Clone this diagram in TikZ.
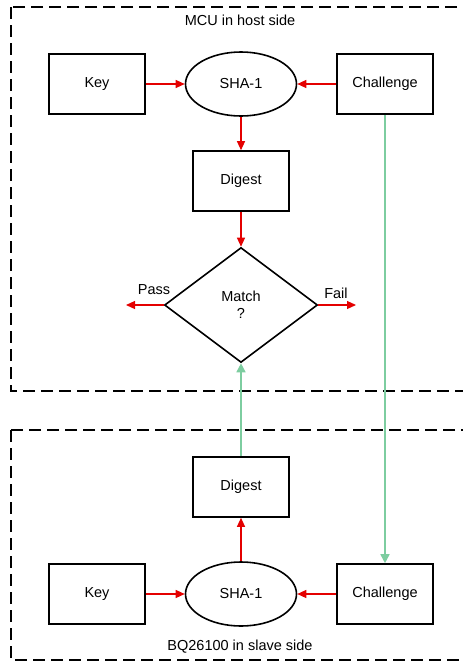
\documentclass[tikz,border=0pt]{standalone}
\usepackage{fontspec}
\setmainfont{Liberation Sans}
\usetikzlibrary{arrows.meta,shapes.geometric}
\definecolor{arrred}{RGB}{228,0,0}
\definecolor{linkgreen}{RGB}{125,205,160}
\begin{document}
\begin{tikzpicture}[x=1pt,y=-1pt,
    font=\fontsize{14.5}{17}\selectfont,
    blk/.style={draw, line width=1.6pt, minimum width=96pt, minimum height=60pt, inner sep=0pt},
    hash/.style={draw, ellipse, line width=1.6pt, minimum width=111pt, minimum height=64pt, inner sep=0pt},
    decide/.style={draw, diamond, line width=1.6pt, minimum width=153pt, minimum height=115pt, inner sep=0pt, align=center},
    frame/.style={line width=2pt, dash pattern=on 12pt off 6pt},
    redarr/.style={arrred, line width=1.2pt, -{Triangle[length=9pt,width=8pt]}},
    greenarr/.style={linkgreen, line width=1.6pt, -{Triangle[length=9pt,width=9pt]}}]
    \useasboundingbox (0,0) rectangle (463,664);
    \clip (0,0) rectangle (463,664);

    % Host and slave frames
    \draw[frame] (11,7) rectangle (480,391);
    \draw[frame] (11,430) rectangle (480,660);
    \node (hostlbl) at (240,20) {MCU in host side};
    \node (slavelbl) at (240,647) {BQ26100 in slave side};

    % Key -> SHA-1 <- Challenge, both sides
    \foreach \s/\y in {h/84, s/594} {
        \node[blk] (key\s) at (97,\y) {Key};
        \node[hash] (sha\s) at (241,\y) {SHA-1};
        \node[blk] (chal\s) at (385,\y) {Challenge};
        \draw[redarr] (key\s) -- (sha\s);
        \draw[redarr] (chal\s) -- (sha\s);
    }

    % Digests and compare
    \node[blk] (digh) at (241,181) {Digest};
    \node[blk] (digs) at (241,487) {Digest};
    \node[decide] (match) at (241,305) {Match\\?};
    \draw[redarr] (shah) -- (digh);
    \draw[redarr] (digh) -- (match);
    \draw[redarr] (shas) -- (digs);

    % Pass / Fail outputs
    \coordinate (pass) at (126,305);
    \coordinate (fail) at (356,305);
    \draw[redarr] (match.west) -- (pass);
    \draw[redarr] (match.east) -- (fail);
    \node (passlbl) at (154,290) {Pass};
    \node (faillbl) at (336,293) {Fail};

    % Links between host and slave
    \draw[greenarr] (digs) -- (match);
    \draw[greenarr] (chalh) -- (chals);
\end{tikzpicture}
\end{document}
